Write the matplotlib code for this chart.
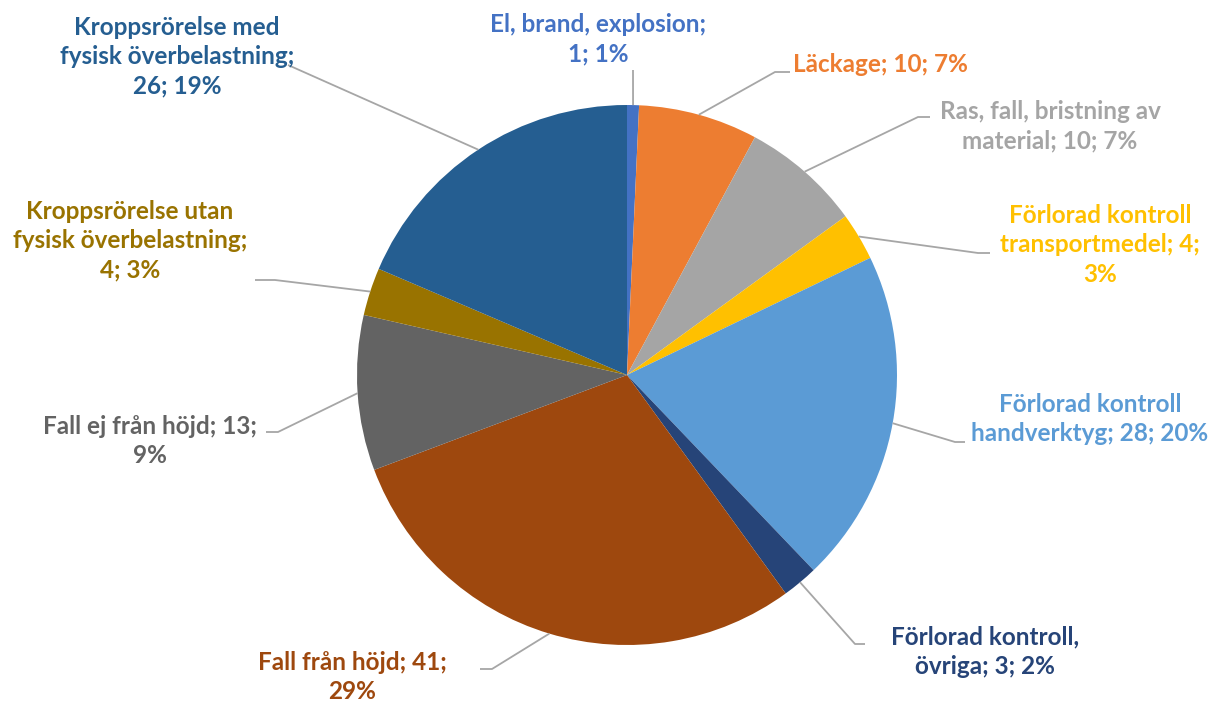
import numpy as np
import matplotlib
matplotlib.use("Agg")
import matplotlib.pyplot as plt

# slices, clockwise from 12 o'clock
categories = [
    "El, brand, explosion;\n{v}; {p}%",
    "Läckage; {v}; {p}%",
    "Ras, fall, bristning av\nmaterial; {v}; {p}%",
    "Förlorad kontroll\ntransportmedel; {v};\n{p}%",
    "Förlorad kontroll\nhandverktyg; {v}; {p}%",
    "Förlorad kontroll,\növriga; {v}; {p}%",
    "Fall från höjd; {v};\n{p}%",
    "Fall ej från höjd; {v};\n{p}%",
    "Kroppsrörelse utan\nfysisk överbelastning;\n{v}; {p}%",
    "Kroppsrörelse med\nfysisk överbelastning;\n{v}; {p}%",
]
values = [1, 10, 10, 4, 28, 3, 41, 13, 4, 26]
colors = ["#4472C4", "#ED7D31", "#A5A5A5", "#FFC000", "#5B9BD5",
          "#264478", "#9E480E", "#636363", "#997300", "#255E91"]

W, H = 1223, 709
cx, cy, R = 627, H - 375, 270

# label placement (pixel coords, y from top): text centre, elbow, line end
label_pos = [
    ((598, 39), (633, 70), (633, 70)),
    ((880, 65), (775, 72), (790, 72)),
    ((1050, 126), (918, 117), (930, 117)),
    ((1100, 245), (978, 253), (990, 253)),
    ((1090, 419), (955, 442), (965, 442)),
    ((985, 652), (855, 644), (865, 644)),
    ((352, 677), (492, 669), (480, 669)),
    ((150, 441), (278, 432), (266, 432)),
    ((130, 241), (275, 280), (255, 280)),
    ((177, 57), (288, 65), (288, 65)),
]

fig = plt.figure(figsize=(W / 100, H / 100), dpi=100)
ax = fig.add_axes([0, 0, 1, 1])

wedges, _ = ax.pie(values, colors=colors, startangle=90, counterclock=False,
                   center=(cx, cy), radius=R, frame=True,
                   wedgeprops=dict(linewidth=0))
ax.set_xlim(0, W)
ax.set_ylim(0, H)
ax.set_aspect("equal")
ax.axis("off")

total = sum(values)
cum = np.cumsum(values) - np.array(values) / 2
for i, (lab, v) in enumerate(zip(categories, values)):
    ang = np.deg2rad(cum[i] / total * 360)
    ex, ey = cx + R * np.sin(ang), cy + R * np.cos(ang)
    (tx, ty), (bx, by), (lx, ly) = label_pos[i]
    ax.plot([ex, bx, lx], [ey, H - by, H - ly], color="#A6A6A6", lw=1.3,
            solid_capstyle="butt", zorder=1)
    p = round(v / total * 100)
    ax.text(tx, H - ty, lab.format(v=v, p=p), ha="center", va="center",
            color=colors[i], fontsize=17.5, fontweight="bold",
            family="Lato", linespacing=1.33)

fig.savefig("out.png", dpi=100)
